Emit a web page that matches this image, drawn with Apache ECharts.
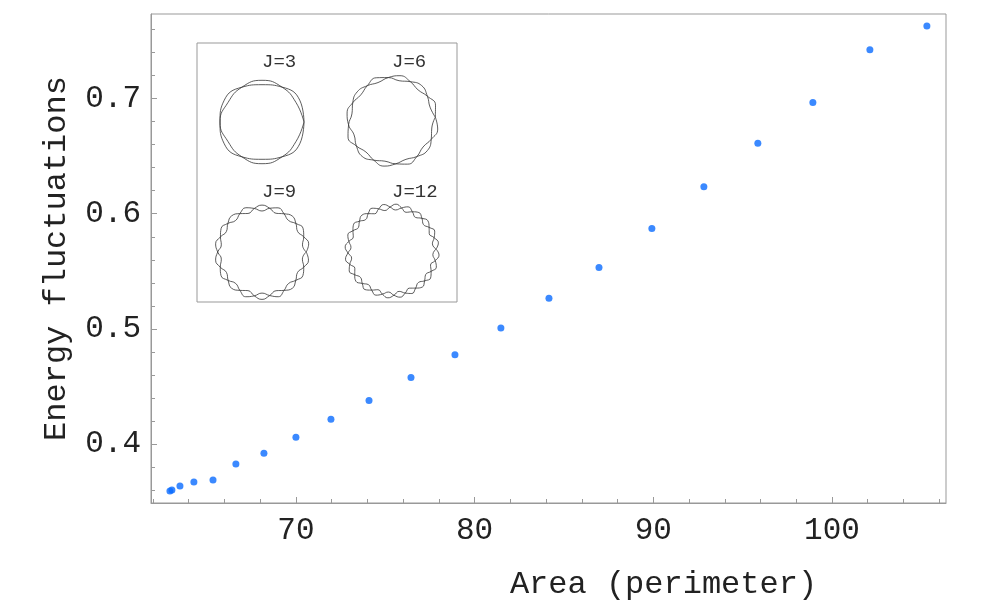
<!DOCTYPE html>
<html><head><meta charset="utf-8">
<style>html,body{margin:0;padding:0;background:#fff}#c{width:981px;height:606px}</style>
<script src="https://cdn.jsdelivr.net/npm/echarts@6/dist/echarts.min.js"></script>
</head><body><div id="c"></div>
<script>
// Main series
const areaValues = [62.95,63.06,63.51,64.29,65.36,66.64,68.21,70.0,71.96,74.09,76.44,78.9,81.47,84.16,86.96,89.92,92.83,95.85,98.93,102.12,105.31];
const fluctuationValues = [0.3595,0.3603,0.3638,0.3672,0.369,0.3828,0.3922,0.406,0.4216,0.4379,0.4578,0.4776,0.5009,0.5267,0.5534,0.5871,0.6233,0.6612,0.6966,0.7422,0.7629];
const xMajorTicks = [70,80,90,100];
const xMinorTicks = [62,64,66,68,72,74,76,78,82,84,86,88,92,94,96,98,102,104,106];
const yMajorTicks = [0.4,0.5,0.6,0.7];
const yMinorTicks = [0.36,0.38,0.42,0.44,0.46,0.48,0.52,0.54,0.56,0.58,0.62,0.64,0.66,0.68,0.72,0.74,0.76];
const insetLabels = ['J=3','J=6','J=9','J=12'];

// Inset outlines: radius read at successive angles (start angle, step in degrees)
const j3Outer = [42,39.2,40.2,41.7,40.2,39.2,42,43.6,40.2,37.3,40.2,43.6];
const j3Inner = [42,43.6,40.3,37.3,40.2,43.6,42,39.2,40.2,41.7,40.2,39.2];
const j6Outer = [43.5,46.3,43.2,40.6,43.4,46.0,43.6,40.9,43.1,45.4,43.3,40.7,43.6,46.8,43.5,40.5,43.2,45.8,43.0,40.8,43.4,46.1,43.3,40.4];
const j6Inner = [43.5,40.5,43.2,46.2,43.4,40.9,43.6,46.0,43.1,40.7,43.3,45.6,43.6,40.4,43.5,46.3,43.2,40.8,43.0,45.9,43.4,40.5,43.3,46.4];
const j9Outer = [44.2,47.4,44.4,41.1,44.3,47.0,44.1,41.2,44.4,46.9,44.2,41.0,44.3,47.2,44.5,41.1,44.2,47.1,44.3,41.3,44.4,47.3,44.2,41.0,44.3,47.6,44.5,41.1,44.2,47.6,44.3,41.2,44.1,47.2,44.4,41.0];
const j9Inner = [44.2,41.1,44.4,47.4,44.3,41.2,44.1,47.0,44.4,41.0,44.2,47.1,44.3,41.1,44.5,47.2,44.2,41.3,44.3,47.1,44.4,41.0,44.2,47.3,44.3,41.1,44.5,47.4,44.2,41.2,44.3,47.3,44.1,41.0,44.4,47.2];
const j12Outer = [44.1,47.1,44.2,41.1,44.0,46.9,44.3,41.0,44.2,47.0,44.1,41.2,44.0,47.2,44.2,41.1,44.3,46.8,44.1,41.0,44.0,47.0,44.2,41.2,44.1,47.2,44.3,41.0,44.2,47.1,44.0,41.1,44.1,47.0,44.2,41.2,44.3,46.9,44.1,41.0,44.0,47.1,44.2,41.1,44.1,47.2,44.3,41.0];
const j12Inner = [44.1,41.0,44.2,47.1,44.0,41.1,44.3,46.9,44.2,41.2,44.1,47.0,44.0,41.1,44.2,47.2,44.3,41.0,44.1,46.8,44.0,41.2,44.2,47.0,44.1,41.0,44.3,47.2,44.2,41.1,44.0,47.1,44.1,41.2,44.2,47.0,44.3,41.0,44.1,46.9,44.0,41.1,44.2,47.1,44.1,41.0,44.3,47.2];

const shapes = [
  {start:0,   curves:[j3Outer,j3Inner],   cx:65,  cy:79},
  {start:5,   curves:[j6Outer,j6Inner],   cx:195, cy:78},
  {start:0,   curves:[j9Outer,j9Inner],   cx:65,  cy:209},
  {start:2.5, curves:[j12Outer,j12Inner], cx:195, cy:208}
];
const labelPos = [[262,52],[392,52],[262,182],[392,182]];
const AXIS = '#999';
const FONT = '"Liberation Mono","DejaVu Sans Mono",monospace';

function outline(radii, start, cx, cy){
  const step = 360/radii.length, pts = [];
  for(let i=0;i<=radii.length;i++){
    const a=(start+i*step)*Math.PI/180, r=radii[i%radii.length];
    pts.push([cx+r*Math.cos(a), cy-r*Math.sin(a)]);
  }
  return pts;
}
const insetSeries = [];
shapes.forEach(s=>s.curves.forEach(c=>insetSeries.push({
  type:'line', xAxisIndex:2, yAxisIndex:2, data:outline(c,s.start,s.cx,s.cy),
  showSymbol:false, smooth:0.5, silent:true, animation:false, z:5,
  lineStyle:{color:'#333',width:0.8}
})));

const baseX = {type:'value', min:61.89, max:106.38, position:'bottom', splitLine:{show:false}};
const baseY = {type:'value', min:0.349, max:0.7733, position:'left', splitLine:{show:false}};
const chart = echarts.init(document.getElementById('c'), null, {renderer:'canvas'});
chart.setOption({
  animation:false,
  backgroundColor:'#fff',
  title: insetLabels.map((t,i)=>({
    text:t, left:labelPos[i][0], top:labelPos[i][1], textAlign:'left', padding:0,
    textStyle:{fontFamily:FONT,fontSize:19,fontWeight:'normal',color:'#333',align:'center'}
  })),
  grid:[
    {left:151,top:14,width:795,height:492,show:true,borderColor:AXIS,borderWidth:1,backgroundColor:'transparent'},
    {left:197,top:43,width:260,height:259,show:true,borderColor:AXIS,borderWidth:1,backgroundColor:'#fff',z:1}
  ],
  xAxis:[
    Object.assign({},baseX,{gridIndex:0,name:'Area (perimeter)',nameLocation:'middle',nameGap:66,
      nameTextStyle:{fontFamily:FONT,fontSize:32,color:'#222',padding:[0,0,0,230]},
      axisLine:{show:true,lineStyle:{color:AXIS}},
      axisTick:{show:true,inside:true,length:6,lineStyle:{color:AXIS},customValues:xMajorTicks},
      axisLabel:{show:true,customValues:xMajorTicks,fontFamily:FONT,fontSize:31,color:'#222',margin:12}}),
    Object.assign({},baseX,{gridIndex:0,
      axisLine:{show:false},
      axisTick:{show:true,inside:true,length:4,lineStyle:{color:AXIS},customValues:xMinorTicks},
      axisLabel:{show:false}}),
    {type:'value',gridIndex:1,min:0,max:260,show:false}
  ],
  yAxis:[
    Object.assign({},baseY,{gridIndex:0,name:'Energy fluctuations',nameLocation:'middle',nameGap:78,
      nameTextStyle:{fontFamily:FONT,fontSize:32,color:'#222'},
      axisLine:{show:true,lineStyle:{color:AXIS}},
      axisTick:{show:true,inside:true,length:6,lineStyle:{color:AXIS},customValues:yMajorTicks},
      axisLabel:{show:true,customValues:yMajorTicks,fontFamily:FONT,fontSize:31,color:'#222',margin:10,
        formatter:v=>v.toFixed(1)}}),
    Object.assign({},baseY,{gridIndex:0,
      axisLine:{show:false},
      axisTick:{show:true,inside:true,length:4,lineStyle:{color:AXIS},customValues:yMinorTicks},
      axisLabel:{show:false}}),
    {type:'value',gridIndex:1,min:0,max:259,inverse:true,show:false}
  ],
  series:[
    {type:'scatter',xAxisIndex:0,yAxisIndex:0,symbol:'circle',symbolSize:7,
     itemStyle:{color:'#0a6cff'},data:areaValues.map((x,i)=>[x,fluctuationValues[i]]),z:3}
  ].concat(insetSeries)
});
</script></body></html>
